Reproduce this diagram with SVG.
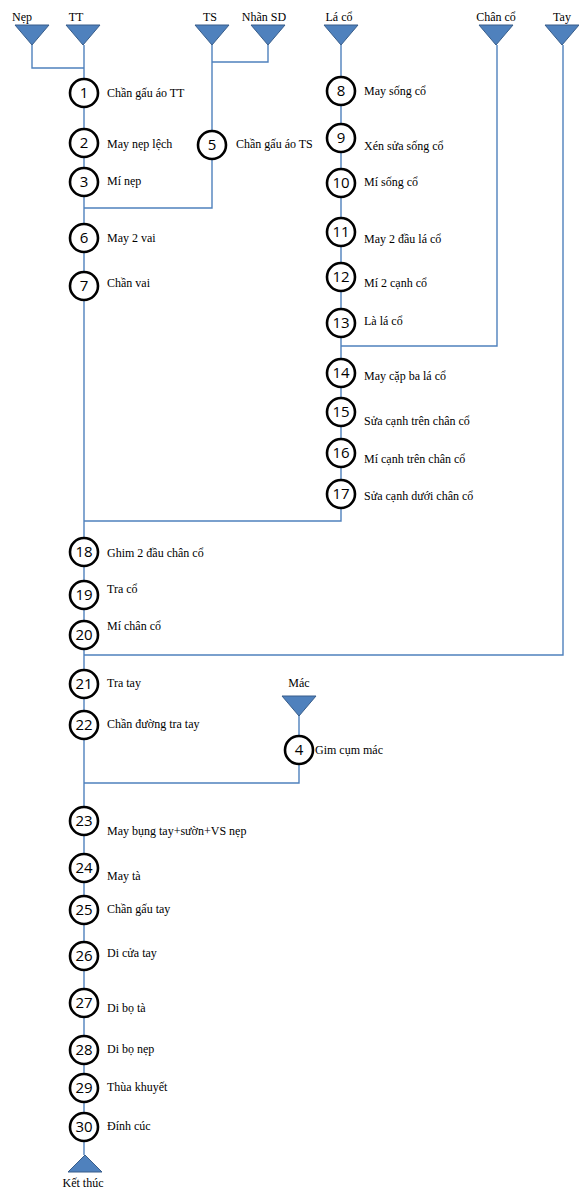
<svg xmlns="http://www.w3.org/2000/svg" width="579" height="1189" viewBox="0 0 579 1189">
<style>
.bg{fill:#ffffff}
.ln{stroke:#4F81BD;stroke-width:1.4;fill:none}
.tri{fill:#4F81BD;stroke:#385D8A;stroke-width:1}
.c{fill:#ffffff;stroke:#000000;stroke-width:2.6}
.n{font-family:"Open Sans","Liberation Sans",sans-serif;font-size:15px;fill:#000;text-anchor:middle}
.t{font-family:"Liberation Serif","Times New Roman",serif;font-size:12px;fill:#000}
.h{font-family:"Liberation Serif","Times New Roman",serif;font-size:12px;fill:#000;text-anchor:middle}
</style>
<defs>
<polygon id="td" points="-17,0 17,0 0,20"/>
</defs>
<rect class="bg" x="0" y="0" width="579" height="1189"/>
<g id="connectors">
<path class="ln" d="M32,45 V68 H84"/>
<path class="ln" d="M84,45 V1155"/>
<path class="ln" d="M268,45 V62 H212"/>
<path class="ln" d="M212,45 V208 H84"/>
<path class="ln" d="M341,45 V521 H84"/>
<path class="ln" d="M497,45 V346 H341"/>
<path class="ln" d="M563,45 V655 H84"/>
<path class="ln" d="M299,715 V783 H84"/>
</g>
<g id="in-nep"><use href="#td" class="tri" x="32" y="25"/><text class="h" x="22" y="21">Nẹp</text></g>
<g id="in-tt"><use href="#td" class="tri" x="83" y="25"/><text class="h" x="76" y="21">TT</text></g>
<g id="in-ts"><use href="#td" class="tri" x="212" y="25"/><text class="h" x="210" y="21">TS</text></g>
<g id="in-nhansd"><use href="#td" class="tri" x="268" y="25"/><text class="h" x="264" y="21">Nhãn SD</text></g>
<g id="in-laco"><use href="#td" class="tri" x="341" y="25"/><text class="h" x="339" y="21">Lá cổ</text></g>
<g id="in-chanco"><use href="#td" class="tri" x="496" y="25"/><text class="h" x="496" y="21">Chân cổ</text></g>
<g id="in-tay"><use href="#td" class="tri" x="562" y="25"/><text class="h" x="562" y="21">Tay</text></g>
<g id="in-mac"><use href="#td" class="tri" x="299" y="696"/><text class="h" x="299" y="687">Mác</text></g>
<g id="n1"><circle class="c" cx="84" cy="93" r="14"/><text class="n" x="84" y="98">1</text><text class="t" x="107" y="97">Chần gấu áo TT</text></g>
<g id="n2"><circle class="c" cx="84" cy="143" r="14"/><text class="n" x="84" y="148">2</text><text class="t" x="107" y="148">May nẹp lệch</text></g>
<g id="n3"><circle class="c" cx="84" cy="182" r="14"/><text class="n" x="84" y="187">3</text><text class="t" x="107" y="185">Mí nẹp</text></g>
<g id="n5"><circle class="c" cx="212" cy="145" r="14"/><text class="n" x="212" y="150">5</text><text class="t" x="236" y="148">Chần gấu áo TS</text></g>
<g id="n6"><circle class="c" cx="84" cy="238" r="14"/><text class="n" x="84" y="243">6</text><text class="t" x="107" y="242">May 2 vai</text></g>
<g id="n7"><circle class="c" cx="84" cy="286" r="14"/><text class="n" x="84" y="291">7</text><text class="t" x="107" y="287">Chần vai</text></g>
<g id="n8"><circle class="c" cx="341" cy="91" r="14"/><text class="n" x="341" y="96">8</text><text class="t" x="364" y="95">May sống cổ</text></g>
<g id="n9"><circle class="c" cx="341" cy="138" r="14"/><text class="n" x="341" y="143">9</text><text class="t" x="364" y="150">Xén sửa sống cổ</text></g>
<g id="n10"><circle class="c" cx="341" cy="183" r="14"/><text class="n" x="341" y="188">10</text><text class="t" x="364" y="186">Mí sống cổ</text></g>
<g id="n11"><circle class="c" cx="341" cy="232" r="14"/><text class="n" x="341" y="237">11</text><text class="t" x="364" y="243">May 2 đầu lá cổ</text></g>
<g id="n12"><circle class="c" cx="341" cy="277" r="14"/><text class="n" x="341" y="282">12</text><text class="t" x="364" y="287">Mí 2 cạnh cổ</text></g>
<g id="n13"><circle class="c" cx="341" cy="323" r="14"/><text class="n" x="341" y="328">13</text><text class="t" x="364" y="325">Là lá cổ</text></g>
<g id="n14"><circle class="c" cx="341" cy="373" r="14"/><text class="n" x="341" y="378">14</text><text class="t" x="364" y="380">May cặp ba lá cổ</text></g>
<g id="n15"><circle class="c" cx="341" cy="412" r="14"/><text class="n" x="341" y="417">15</text><text class="t" x="364" y="425">Sửa cạnh trên chân cổ</text></g>
<g id="n16"><circle class="c" cx="341" cy="453" r="14"/><text class="n" x="341" y="458">16</text><text class="t" x="364" y="463">Mí cạnh trên chân cổ</text></g>
<g id="n17"><circle class="c" cx="341" cy="494" r="14"/><text class="n" x="341" y="499">17</text><text class="t" x="364" y="500">Sửa cạnh dưới chân cổ</text></g>
<g id="n18"><circle class="c" cx="84" cy="552" r="14"/><text class="n" x="84" y="557">18</text><text class="t" x="107" y="557">Ghim 2 đầu chân cổ</text></g>
<g id="n19"><circle class="c" cx="84" cy="595" r="14"/><text class="n" x="84" y="600">19</text><text class="t" x="107" y="593">Tra cổ</text></g>
<g id="n20"><circle class="c" cx="84" cy="635" r="14"/><text class="n" x="84" y="640">20</text><text class="t" x="107" y="630">Mí chân cổ</text></g>
<g id="n21"><circle class="c" cx="84" cy="684" r="14"/><text class="n" x="84" y="689">21</text><text class="t" x="107" y="687">Tra tay</text></g>
<g id="n22"><circle class="c" cx="84" cy="725" r="14"/><text class="n" x="84" y="730">22</text><text class="t" x="107" y="728">Chần đường tra tay</text></g>
<g id="n4"><circle class="c" cx="299" cy="750" r="14"/><text class="n" x="299" y="755">4</text><text class="t" x="315" y="754">Gim cụm mác</text></g>
<g id="n23"><circle class="c" cx="84" cy="821" r="14"/><text class="n" x="84" y="826">23</text><text class="t" x="107" y="835">May bụng tay+sườn+VS nẹp</text></g>
<g id="n24"><circle class="c" cx="84" cy="868" r="14"/><text class="n" x="84" y="873">24</text><text class="t" x="107" y="880">May tà</text></g>
<g id="n25"><circle class="c" cx="84" cy="910" r="14"/><text class="n" x="84" y="915">25</text><text class="t" x="107" y="913">Chần  gấu tay</text></g>
<g id="n26"><circle class="c" cx="84" cy="956" r="14"/><text class="n" x="84" y="961">26</text><text class="t" x="107" y="957">Di cửa tay</text></g>
<g id="n27"><circle class="c" cx="84" cy="1003" r="14"/><text class="n" x="84" y="1008">27</text><text class="t" x="107" y="1012">Di bọ tà</text></g>
<g id="n28"><circle class="c" cx="84" cy="1050" r="14"/><text class="n" x="84" y="1055">28</text><text class="t" x="107" y="1053">Di bọ nẹp</text></g>
<g id="n29"><circle class="c" cx="84" cy="1088" r="14"/><text class="n" x="84" y="1093">29</text><text class="t" x="107" y="1091">Thùa khuyết</text></g>
<g id="n30"><circle class="c" cx="84" cy="1127" r="14"/><text class="n" x="84" y="1132">30</text><text class="t" x="107" y="1130">Đính cúc</text></g>
<g id="end"><polygon class="tri" points="68,1172 102,1172 85,1155"/><text class="h" x="83" y="1187">Kết thúc</text></g>
</svg>
